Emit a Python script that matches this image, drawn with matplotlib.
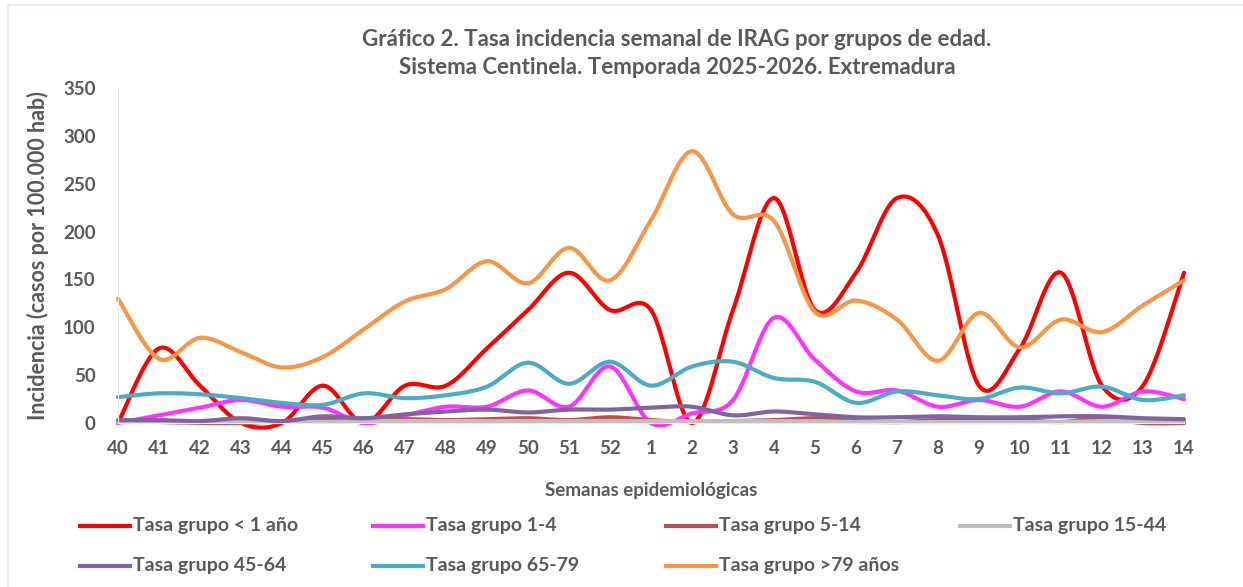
import numpy as np
import matplotlib
matplotlib.use("Agg")
import matplotlib.pyplot as plt
from matplotlib.lines import Line2D
from matplotlib.patches import Rectangle

plt.rcParams['font.family'] = ['Lato', 'DejaVu Sans']
plt.rcParams['font.weight'] = 'bold'

weeks = ['40', '41', '42', '43', '44', '45', '46', '47', '48', '49', '50', '51', '52',
         '1', '2', '3', '4', '5', '6', '7', '8', '9', '10', '11', '12', '13', '14']

menor_1 = [0, 78, 39, 0, 0, 39, 0, 39, 39, 78, 118, 157, 118, 118, 0, 118, 235, 118,
           157, 235, 196, 39, 78, 157, 39, 39, 157]
g_1_4 = [0, 8, 16, 24, 17, 16, 0, 8, 17, 17, 34, 17, 59, 0, 10, 24, 110, 66, 33,
         34, 17, 24, 17, 33, 17, 33, 25]
g_5_14 = [2, 1, 0, 0, 2, 3, 3, 4, 3, 4, 5, 3, 6, 3, 1, 2, 3, 5, 2, 1, 3, 3, 3, 1,
          5, 0, 0]
g_15_44 = [1, 1, 1, 1, 1, 1, 2, 2, 2, 2, 2, 2, 2, 2, 2, 2, 2, 2, 1, 1, 1, 1, 1, 1,
           2, 2, 2]
g_45_64 = [3, 3, 2, 5, 2, 7, 5, 9, 12, 14, 11, 14, 14, 16, 17, 8, 12, 9, 6, 6, 7,
           6, 6, 7, 7, 5, 4]
g_65_79 = [27, 31, 30, 26, 21, 19, 31, 26, 29, 38, 63, 41, 64, 39, 59, 64, 47, 43,
           21, 33, 29, 25, 37, 31, 38, 24, 29]
mayor_79 = [130, 67, 89, 74, 58, 69, 98, 127, 140, 169, 146, 183, 149, 212, 284, 218,
            211, 116, 128, 108, 65, 115, 79, 108, 95, 123, 149]

series = [
    ('Tasa grupo < 1 año', menor_1, '#FF0000'),
    ('Tasa grupo 1-4', g_1_4, '#FF33FF'),
    ('Tasa grupo 5-14', g_5_14, '#C0504D'),
    ('Tasa grupo 15-44', g_15_44, '#BFBFBF'),
    ('Tasa grupo 45-64', g_45_64, '#8064A2'),
    ('Tasa grupo 65-79', g_65_79, '#4BACC6'),
    ('Tasa grupo >79 años', mayor_79, '#F79646'),
]


def smooth(y, n=30):
    # curva suavizada tipo Excel (Catmull-Rom con Bezier cubico)
    y = np.asarray(y, dtype=float)
    x = np.arange(len(y), dtype=float)
    xp = np.concatenate([[x[0]], x, [x[-1]]])
    yp = np.concatenate([[y[0]], y, [y[-1]]])
    xs, ys = [], []
    t = np.linspace(0, 1, n)
    for i in range(len(y) - 1):
        p0 = np.array([xp[i + 1], yp[i + 1]])
        p3 = np.array([xp[i + 2], yp[i + 2]])
        p1 = p0 + (p3 - np.array([xp[i], yp[i]])) / 6
        p2 = p3 - (np.array([xp[i + 3], yp[i + 3]]) - p0) / 6
        b = ((1 - t) ** 3)[:, None] * p0 + (3 * (1 - t) ** 2 * t)[:, None] * p1 \
            + (3 * (1 - t) * t ** 2)[:, None] * p2 + (t ** 3)[:, None] * p3
        xs.append(b[:, 0])
        ys.append(b[:, 1])
    return np.concatenate(xs), np.concatenate(ys)


fig = plt.figure(figsize=(12.43, 5.87), dpi=100)
ax = fig.add_axes([118 / 1243, 164 / 587, 1066 / 1243, 335 / 587])

for label, vals, color in series:
    sx, sy = smooth(vals)
    ax.plot(sx, sy, color=color, lw=3, label=label, solid_capstyle='round', clip_on=False)

ax.set_xlim(0, len(weeks) - 1)
ax.set_ylim(0, 350)
ax.set_xticks(range(len(weeks)))
ax.set_xticklabels(weeks)
ax.set_yticks(range(0, 351, 50))
ax.tick_params(length=0, labelsize=13.5, labelcolor='#595959')
ax.tick_params(axis='x', pad=12)
ax.tick_params(axis='y', pad=16)
for s in ['top', 'right']:
    ax.spines[s].set_visible(False)
ax.spines['left'].set_color('#EDE8DE')
ax.spines['bottom'].set_color('#EDE8DE')

ax.set_ylabel('Incidencia (casos por 100.000 hab)', fontsize=15.5, color='#595959',
              fontweight='bold', labelpad=10)
ax.set_xlabel('Semanas epidemiológicas', fontsize=13.5, color='#595959',
              fontweight='bold', labelpad=18)

fig.text(677 / 1243, 1 - 40 / 587, 'Gráfico 2. Tasa incidencia semanal de IRAG por grupos de edad.',
         ha='center', va='center', fontsize=16, color='#595959', fontweight='bold')
fig.text(677 / 1243, 1 - 68 / 587, 'Sistema Centinela. Temporada 2025-2026. Extremadura',
         ha='center', va='center', fontsize=16, color='#595959', fontweight='bold')

# borde del grafico
fig.add_artist(Rectangle((8 / 1243, -0.1), 1.2, 1 - 5 / 587 + 0.1, transform=fig.transFigure,
                         fill=False, edgecolor='#EDE8DE', lw=1.2))

# leyenda
col_x = [80, 373, 666, 960]
row_y = [526, 566]
for k, (label, vals, color) in enumerate(series):
    r, c = divmod(k, 4)
    x0 = col_x[c]
    y0 = 1 - row_y[r] / 587
    fig.add_artist(Line2D([x0 / 1243, (x0 + 50) / 1243], [y0, y0], color=color, lw=3,
                          transform=fig.transFigure))
    fig.text((x0 + 53) / 1243, y0, label, ha='left', va='center', fontsize=14,
             color='#595959', fontweight='bold')

fig.savefig('out.png', dpi=100)
